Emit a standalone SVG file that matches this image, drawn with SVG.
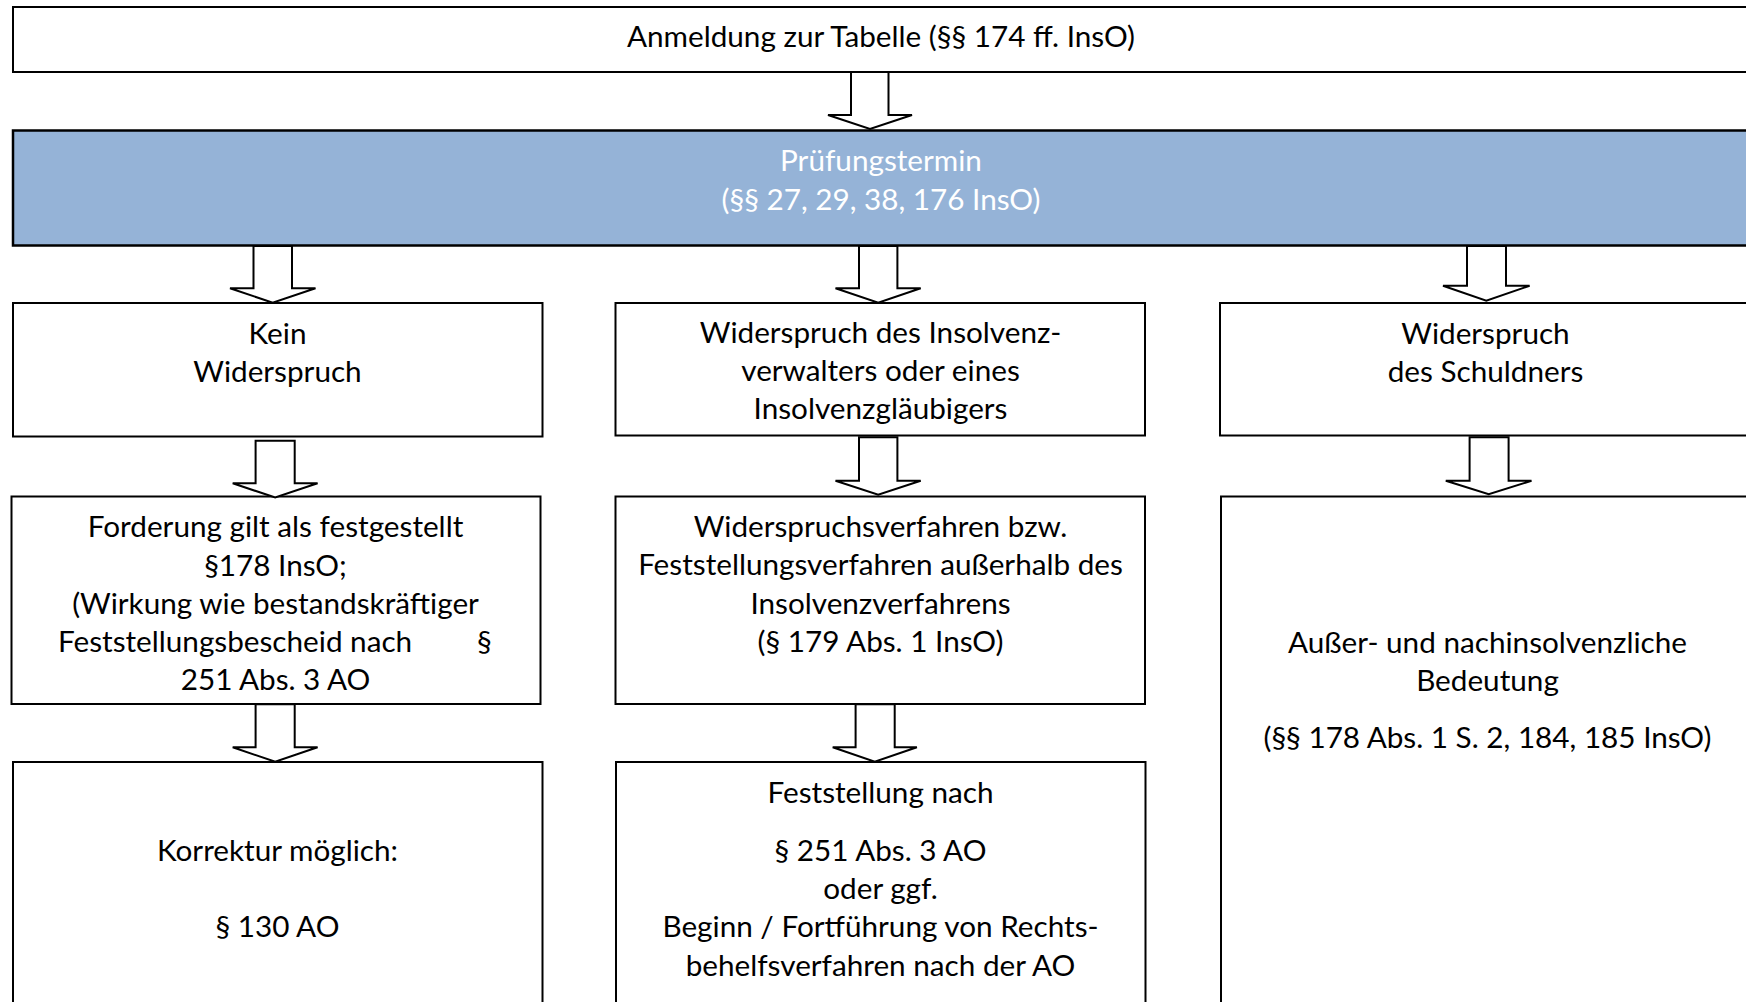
<svg xmlns="http://www.w3.org/2000/svg" width="1746" height="1002" viewBox="0 0 1746 1002">
<style>
.box{fill:#ffffff;stroke:#000000;stroke-width:2}
.blue{fill:#95B3D7;stroke:#000000;stroke-width:2.5}
.arr{fill:#ffffff;stroke:#000000;stroke-width:2;stroke-linejoin:miter}
text{font-family:Lato,"Open Sans","Liberation Sans",sans-serif;font-size:29.7px;fill:#000000;text-anchor:middle}
.w{fill:#ffffff}
</style>
<rect x="0" y="0" width="1746" height="1002" fill="#ffffff"/>
<g id="nodes">
<g id="n-anmeldung">
<rect class="box" x="13" y="7" width="1760" height="65"/>
<text x="881" y="46.5">Anmeldung zur Tabelle (§§ 174 ff. InsO)</text>
</g>
<g id="n-pruefung">
<rect class="blue" x="13" y="130.5" width="1760" height="115"/>
<text class="w" x="881" y="170.5">Prüfungstermin</text>
<text class="w" x="881" y="209.5">(§§ 27, 29, 38, 176 InsO)</text>
</g>
<g id="n-kein">
<rect class="box" x="13" y="303" width="529.5" height="133.5"/>
<text x="277.5" y="344">Kein</text>
<text x="277.5" y="382">Widerspruch</text>
</g>
<g id="n-forderung">
<rect class="box" x="11.5" y="496.5" width="529" height="207.5"/>
<text x="275.5" y="536.5">Forderung gilt als festgestellt</text>
<text x="275.5" y="575.5">§178 InsO;</text>
<text x="275.5" y="613.5">(Wirkung wie bestandskräftiger</text>
<text style="text-anchor:start"><tspan x="58" y="651.5">Feststellungsbescheid nach</tspan><tspan x="477" y="651.5">§</tspan></text>
<text x="275.5" y="690">251 Abs. 3 AO</text>
</g>
<g id="n-korrektur">
<rect class="box" x="13" y="762" width="529.5" height="260"/>
<text x="277.5" y="861">Korrektur möglich:</text>
<text x="277.5" y="936.5">§ 130 AO</text>
</g>
<g id="n-widerspruch-iv">
<rect class="box" x="615.5" y="303" width="529.5" height="132.5"/>
<text x="880.5" y="343">Widerspruch des Insolvenz-</text>
<text x="880.5" y="381">verwalters oder eines</text>
<text x="880.5" y="419">Insolvenzgläubigers</text>
</g>
<g id="n-verfahren">
<rect class="box" x="615.5" y="496.5" width="529.5" height="207.5"/>
<text x="880.5" y="536.5">Widerspruchsverfahren bzw.</text>
<text x="880.5" y="575">Feststellungsverfahren außerhalb des</text>
<text x="880.5" y="613.5">Insolvenzverfahrens</text>
<text x="880.5" y="651.5">(§ 179 Abs. 1 InsO)</text>
</g>
<g id="n-feststellung">
<rect class="box" x="616" y="762" width="529.5" height="260"/>
<text x="880.5" y="802.5">Feststellung nach</text>
<text x="880.5" y="861">§ 251 Abs. 3 AO</text>
<text x="880.5" y="899">oder ggf.</text>
<text x="880.5" y="937">Beginn / Fortführung von Rechts-</text>
<text x="880.5" y="975.5">behelfsverfahren nach der AO</text>
</g>
<g id="n-schuldner">
<rect class="box" x="1220" y="303" width="560" height="132.5"/>
<text x="1485.5" y="344">Widerspruch</text>
<text x="1485.5" y="382">des Schuldners</text>
</g>
<g id="n-ausser">
<rect class="box" x="1221" y="496.5" width="560" height="530"/>
<text x="1487.5" y="652.5">Außer- und nachinsolvenzliche</text>
<text x="1487.5" y="690.5">Bedeutung</text>
<text x="1487.5" y="748">(§§ 178 Abs. 1 S. 2, 184, 185 InsO)</text>
</g>
</g>
<g id="connectors">
<path class="arr" d="M851,72 V115 H828 L870,129 L912,115 H888.5 V72 Z"/>
<path class="arr" d="M253.5,246 V288.3 H230 L272.7,302.7 L315.5,288.3 H292 V246 Z"/>
<path class="arr" d="M859,246 V288.3 H835.5 L878.2,302.7 L920.7,288.3 H897.4 V246 Z"/>
<path class="arr" d="M1467,246 V285.7 H1443 L1486.3,300.7 L1529.6,285.7 H1506 V246 Z"/>
<path class="arr" d="M255.6,440.7 V483.3 H232.7 L275.2,497.5 L317.6,483.3 H294.7 V440.7 Z"/>
<path class="arr" d="M859,437.3 V480.7 H835.5 L878.2,494.7 L920.7,480.7 H897.4 V437.3 Z"/>
<path class="arr" d="M1469.6,437.3 V480.7 H1445.8 L1488.7,494.3 L1531.5,480.7 H1508.6 V437.3 Z"/>
<path class="arr" d="M255.6,704.3 V747.3 H232.7 L275.2,761.7 L317.6,747.3 H294.7 V704.3 Z"/>
<path class="arr" d="M855.6,704.3 V747.3 H832.7 L874.8,761.7 L916.9,747.3 H894.7 V704.3 Z"/>
</g>
</svg>
